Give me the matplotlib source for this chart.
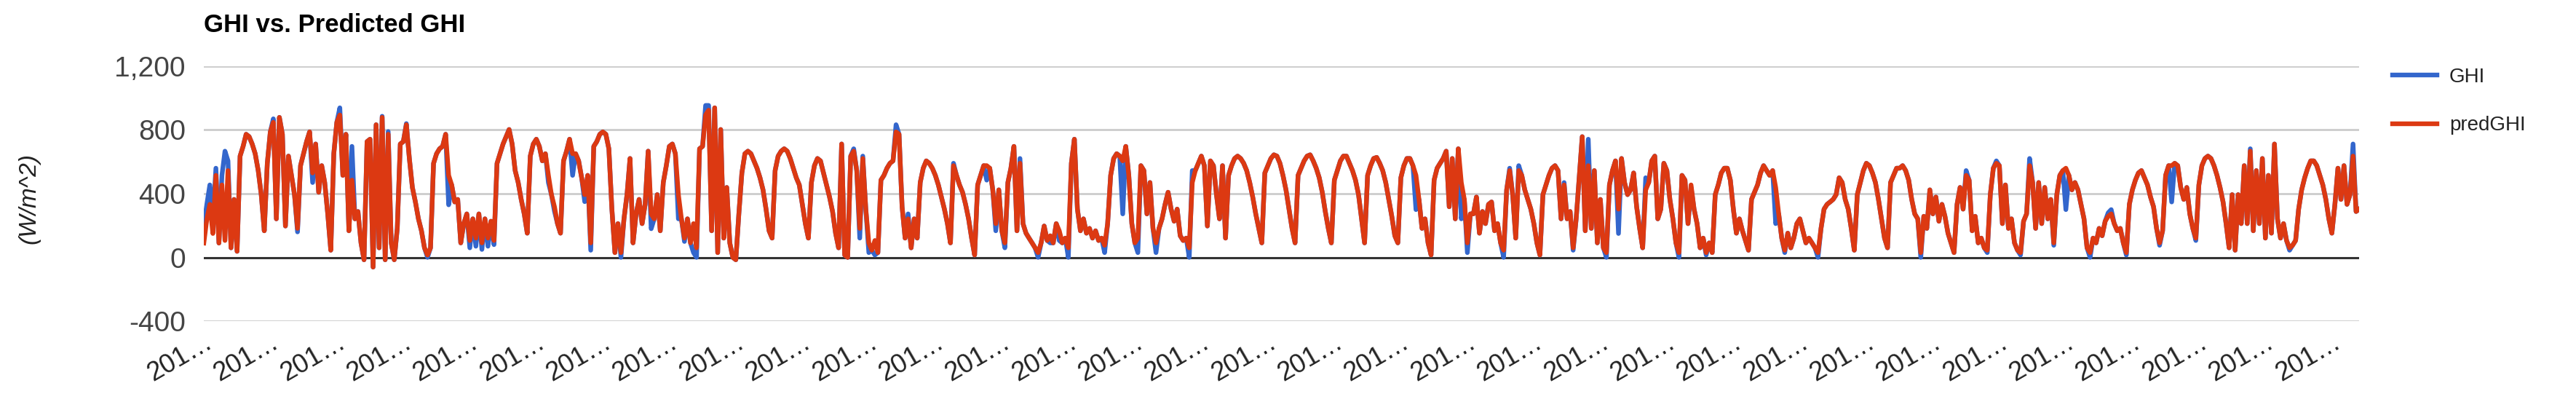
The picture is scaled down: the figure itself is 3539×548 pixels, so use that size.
import matplotlib
matplotlib.use('Agg')
import matplotlib.pyplot as plt

# values (W/m^2), one per time step
ghi = [
    197, 333, 455, 240, 560, 90, 515, 667, 606, 60, 364, 38,
    636, 697, 773, 758, 712, 651, 545, 394, 167, 590, 788, 870,
    242, 879, 773, 197, 636, 515, 394, 160, 576, 651, 727, 788,
    470, 712, 409, 576, 470, 273, 45, 651, 848, 939, 515, 773,
    167, 697, 242, 288, 91, -15, 727, 742, -61, 833, 60, 886,
    -15, 790, 91, -15, 182, 712, 727, 840, 621, 439, 348, 242,
    167, 60, 0, 60, 590, 651, 682, 697, 773, 330, 455, 348,
    364, 91, 212, 273, 60, 242, 70, 273, 50, 242, 70, 227,
    80, 590, 651, 712, 758, 803, 712, 545, 470, 364, 273, 152,
    636, 712, 742, 697, 606, 651, 470, 394, 290, 212, 152, 606,
    667, 742, 515, 651, 606, 500, 350, 515, 45, 697, 727, 773,
    788, 773, 682, 303, 30, 212, 0, 242, 394, 621, 91, 273,
    364, 212, 333, 667, 180, 242, 394, 167,
    470, 576, 697, 712, 651, 242, 242, 100, 242, 91, 30, 0,
    682, 697, 954, 954, 167, 939, 30, 803, 121, 439, 91, 0,
    -15, 273, 530, 651, 667, 651, 606, 560, 500, 424, 303, 167,
    121, 545, 636, 667, 682, 667, 621, 560, 500, 455, 333, 212,
    121, 470, 576, 621, 606, 530, 455, 379, 288, 152, 60, 712,
    15, 0, 636, 682, 545, 121, 636, 303, 30, 45, 15, 30,
    485, 515, 560, 591, 606, 833, 773, 318, 121, 273, 60, 242,
    121, 470, 560, 606, 591, 560, 515, 455, 379, 303, 212, 91,
    591, 515, 455, 409, 333, 242, 121, 15, 455, 515, 576, 485,
    560, 424, 167, 424, 167, 60, 470, 560, 697, 167, 621, 212,
    152, 121, 91, 60, 0, 91, 197, 106, 91, 91, 212, 106,
    91, 121, 0, 591, 742, 303, 167, 242, 152, 182, 121, 167,
    106, 121, 30, 212, 515, 621, 651, 636, 273, 697, 515, 212,
    91,
    30, 576, 545, 273, 470, 182, 30, 182, 242, 333, 409, 303,
    227, 303, 136, 106, 121, 0, 545, 545, 591, 636, 576, 197,
    606, 576, 394, 242, 576, 121, 515, 576, 621, 636, 621, 591,
    545, 470, 379, 273, 182, 91, 530, 576, 621, 644, 636, 591,
    515, 424, 303, 182, 91, 515, 560, 606, 636, 644, 606, 560,
    500, 409, 288, 182, 91, 485, 545, 606, 636, 636, 591, 545,
    485, 394, 242, 91, 515, 576, 621, 628, 591, 545, 470, 364,
    258, 136, 91, 500, 576, 621, 621, 576, 300, 364, 182, 242,
    91, 15, 485, 560, 591, 621, 667, 318, 621, 242, 682, 242,
    364, 30, 273, 273, 379, 152, 288, 212, 333, 348, 167, 212,
    91, 0, 424, 560, 394, 121, 576, 515, 424, 364, 303, 212,
    91, 15, 394, 455, 515, 560, 576, 545, 242, 470, 242, 288,
    45, 242, 500, 758, 167, 742, 182, 545, 91, 364, 60, 0,
    455, 545, 606, 150, 621, 470, 394, 424, 530, 318, 182, 60,
    500, 470, 606, 636, 242, 303, 591, 545, 364, 242, 91, 0,
    515, 485, 212, 440, 303, 212, 60, 121, 15, 91, 30, 394,
    455, 530, 560, 560, 485, 303, 152, 242, 167, 106, 45, 364,
    409, 455, 530, 576, 545, 515, 545, 212, 273, 121, 30, 152,
    60, 121, 212, 242, 167, 91, 121, 91, 60, 0, 182, 303,
    333, 348, 364, 394, 500, 470, 364, 303, 182, 45, 394, 470,
    545, 591, 576, 530, 470, 364, 242, 121, 60, 470, 515, 560,
    560, 576, 545, 485, 364, 273, 242, 0, 258, 182, 424, 273,
    379, 227, 333, 258, 152, 91, 30, 333, 439, 303, 545, 485,
    167, 258, 91, 121, 60, 30, 394, 560, 606, 576, 212, 455,
    182, 242, 91, 45, 15, 227, 273, 621, 470, 182, 470, 212,
    439, 242, 364, 76, 394, 515, 545, 300, 515, 424,
    470, 424, 333, 242, 60, 0, 121, 91, 182, 136, 227, 280,
    300, 212, 167, 182, 91, 15, 333, 424, 485, 530, 545, 500,
    455, 379, 318, 182, 76, 167, 515, 576, 348, 591, 576, 439,
    364, 439, 273, 182, 106, 455, 576, 621, 636, 621, 576, 515,
    439, 348, 212, 60, 394, 45, 394, 212, 576, 212, 682, 167,
    545, 212, 621, 121, 515, 152, 712, 242, 121, 212, 106, 45,
    76, 106, 303, 424, 500, 560, 606, 606, 576, 515, 455, 364,
    242, 152, 333, 560, 364, 576, 333, 394, 712, 288, 303,
]

pred_ghi = [
    90, 240, 333, 150, 515, 90, 455, 106, 545, 60, 364, 38,
    636, 697, 773, 758, 712, 651, 545, 394, 167, 590, 788, 848,
    242, 879, 773, 197, 636, 515, 394, 182, 576, 651, 727, 788,
    530, 712, 409, 576, 470, 273, 45, 651, 848, 894, 515, 773,
    167, 485, 242, 288, 91, -15, 727, 742, -61, 833, 60, 879,
    -15, 773, 91, -15, 182, 712, 727, 833, 621, 439, 348, 242,
    167, 60, 15, 60, 590, 651, 682, 697, 773, 515, 455, 348,
    364, 91, 212, 273, 106, 242, 121, 273, 91, 242, 121, 227,
    106, 590, 651, 712, 758, 803, 712, 545, 470, 364, 273, 152,
    636, 712, 742, 697, 606, 651, 515, 394, 318, 212, 152, 606,
    667, 742, 651, 651, 606, 500, 394, 515, 91, 697, 727, 773,
    788, 773, 682, 303, 30, 212, 30, 242, 394, 621, 91, 273,
    364, 212, 333, 667, 273, 242, 394, 167,
    470, 576, 697, 712, 651, 394, 242, 121, 242, 91, 212, 60,
    682, 697, 894, 924, 167, 939, 30, 803, 121, 439, 91, 0,
    -15, 273, 530, 651, 667, 651, 606, 560, 500, 424, 303, 167,
    121, 545, 636, 667, 682, 667, 621, 560, 500, 455, 333, 212,
    121, 470, 576, 621, 606, 530, 455, 379, 288, 152, 60, 712,
    15, 0, 636, 667, 545, 182, 621, 303, 91, 45, 106, 30,
    485, 515, 560, 591, 606, 788, 773, 318, 121, 242, 60, 242,
    121, 470, 560, 606, 591, 560, 515, 455, 379, 303, 212, 91,
    576, 515, 455, 409, 333, 242, 121, 15, 455, 515, 576, 576,
    560, 424, 212, 424, 167, 91, 470, 560, 697, 167, 591, 212,
    152, 121, 91, 60, 30, 91, 197, 106, 136, 91, 212, 167,
    91, 121, 60, 591, 742, 303, 167, 242, 152, 182, 121, 167,
    106, 121, 76, 212, 515, 621, 651, 636, 606, 697, 515, 212,
    91,
    121, 576, 545, 273, 470, 182, 91, 182, 242, 333, 409, 303,
    227, 303, 136, 106, 121, 60, 470, 545, 591, 636, 576, 197,
    606, 576, 394, 242, 576, 121, 515, 576, 621, 636, 621, 591,
    545, 470, 379, 273, 182, 91, 530, 576, 621, 644, 636, 591,
    515, 424, 303, 182, 91, 515, 560, 606, 636, 644, 606, 560,
    500, 409, 288, 182, 91, 485, 545, 606, 636, 636, 591, 545,
    485, 394, 242, 91, 515, 576, 621, 628, 591, 545, 470, 364,
    258, 136, 91, 500, 576, 621, 621, 576, 515, 364, 182, 242,
    91, 15, 485, 560, 591, 621, 667, 318, 621, 242, 682, 470,
    364, 91, 273, 273, 379, 152, 288, 212, 333, 348, 167, 212,
    91, 45, 424, 545, 394, 121, 545, 515, 424, 364, 303, 212,
    91, 15, 394, 455, 515, 560, 576, 545, 242, 455, 242, 288,
    60, 242, 500, 758, 167, 576, 182, 545, 91, 364, 60, 30,
    455, 545, 606, 303, 621, 470, 394, 424, 530, 318, 182, 60,
    424, 470, 606, 636, 242, 303, 591, 545, 364, 242, 91, 30,
    515, 485, 212, 455, 303, 212, 60, 121, 30, 91, 30, 394,
    455, 530, 560, 560, 485, 303, 152, 242, 167, 106, 45, 364,
    409, 455, 530, 576, 545, 515, 545, 439, 273, 121, 45, 152,
    60, 121, 212, 242, 167, 91, 121, 91, 60, 30, 182, 303,
    333, 348, 364, 394, 500, 470, 364, 303, 182, 45, 394, 470,
    545, 591, 576, 530, 470, 364, 242, 121, 60, 470, 515, 560,
    560, 576, 545, 485, 364, 273, 242, 30, 258, 182, 424, 273,
    379, 227, 333, 258, 152, 91, 30, 333, 439, 303, 515, 485,
    167, 258, 91, 121, 60, 45, 394, 560, 591, 576, 212, 455,
    182, 242, 91, 45, 30, 227, 273, 576, 470, 182, 470, 212,
    439, 242, 364, 91, 394, 515, 545, 560, 515, 424,
    470, 424, 333, 242, 60, 30, 121, 91, 182, 136, 227, 258,
    273, 212, 167, 182, 91, 30, 333, 424, 485, 530, 545, 500,
    455, 379, 318, 182, 91, 167, 515, 576, 576, 591, 576, 439,
    364, 439, 273, 182, 121, 455, 576, 621, 636, 621, 576, 515,
    439, 348, 212, 60, 394, 45, 394, 212, 576, 212, 667, 167,
    545, 212, 621, 121, 515, 152, 712, 242, 121, 212, 106, 60,
    76, 106, 303, 424, 500, 560, 606, 606, 576, 515, 455, 364,
    242, 152, 333, 560, 364, 576, 333, 394, 636, 288, 303,
]

y_ticks = [-400, 0, 400, 800, 1200]
y_tick_labels = ["-400", "0", "400", "800", "1,200"]
x_tick_label = "201\u2026"
label_every = 22

plt.rcParams['font.family'] = ['Liberation Sans', 'DejaVu Sans']

W, H = 3539, 548
fig = plt.figure(figsize=(W / 100, H / 100), dpi=100)
ax = fig.add_axes([280 / W, 1 - 441 / H, (3241 - 280) / W, (441 - 91) / H])

n = len(pred_ghi)
x = list(range(n))

for v in [-400, 400, 800, 1200]:
    ax.axhline(v, color='#cccccc', lw=2.0, zorder=0)
ax.axhline(0, color='#333333', lw=2.2, zorder=1)

l1, = ax.plot(x, ghi, color='#3366cc', lw=4.6, zorder=2)
l2, = ax.plot(x, pred_ghi, color='#dc3912', lw=4.6, zorder=3)

ax.set_xlim(0, n - 1)
ax.set_ylim(-400, 1200)
for s in ax.spines.values():
    s.set_visible(False)

ax.set_yticks(y_ticks)
ax.set_yticklabels(y_tick_labels)
ax.tick_params(axis='y', length=0, pad=18, labelsize=28, labelcolor='#444444')

xt = list(range(0, n, label_every))
ax.set_xticks(xt)
ax.set_xticklabels([x_tick_label] * len(xt), rotation=30, ha='right',
                   rotation_mode='anchor')
ax.tick_params(axis='x', length=0, pad=8, labelsize=26, labelcolor='#222222')

fig.text(280 / W, 1 - 34 / H, "GHI vs. Predicted GHI", fontsize=25,
         fontweight='bold', ha='left', va='center', color='#000000')
fig.text(40 / W, 1 - 272 / H, "(W/m^2)", fontsize=24, style='italic',
         rotation=90, ha='center', va='center', color='#222222')

fig.legend([l1, l2], ["GHI", "predGHI"], loc='upper left',
           bbox_to_anchor=(3262 / W, 1 - 68 / H), frameon=False, fontsize=20,
           handlelength=2.2, handletextpad=0.6, labelspacing=1.45,
           labelcolor='#222222')

fig.savefig("out.png", dpi=100)
